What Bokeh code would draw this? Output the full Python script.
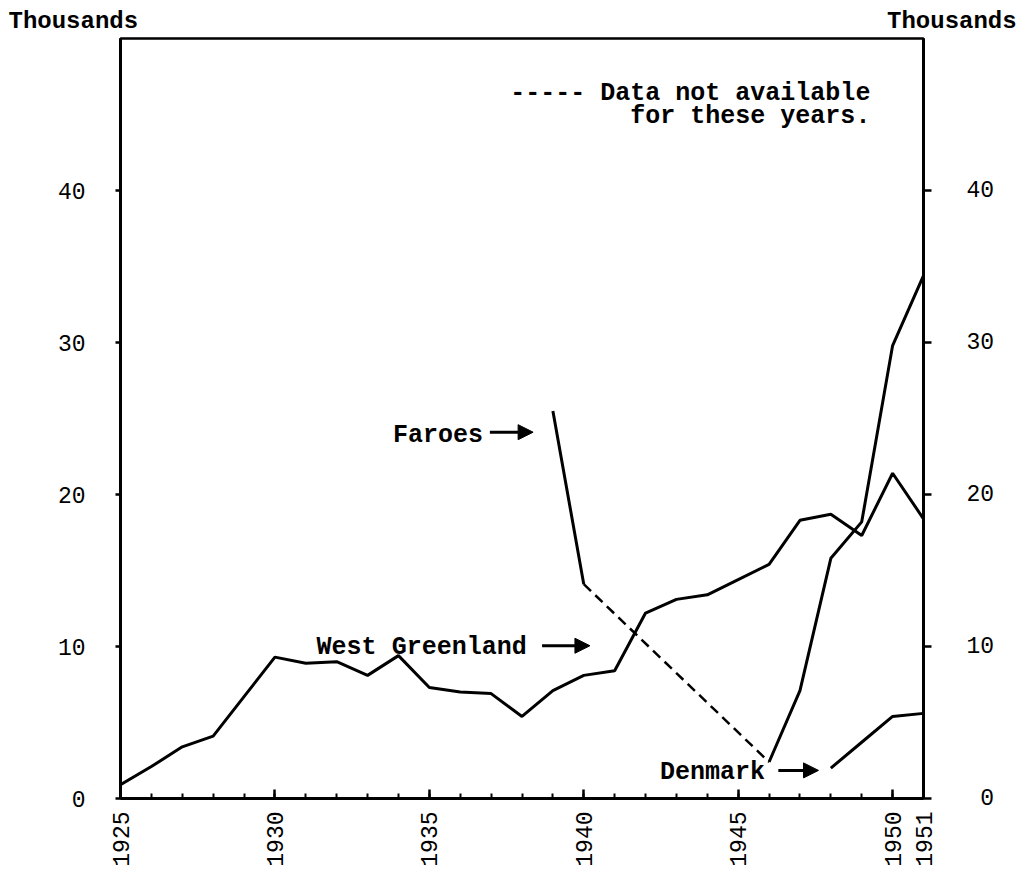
import math
from bokeh.plotting import figure
from bokeh.models import (Range1d, LinearAxis, FixedTicker, Label, Arrow, NormalHead)
from bokeh.embed import file_html
from bokeh.resources import INLINE

# ---------------- data (thousands) ----------------
years = list(range(1925, 1952))
west_greenland = [0.9, 2.1, 3.4, 4.1, 6.7, 9.3, 8.9, 9.0, 8.1, 9.4, 7.3, 7.0, 6.9,
                  5.4, 7.1, 8.1, 8.4, 12.2, 13.1, 13.4, 14.4, 15.4, 18.3, 18.7,
                  17.3, 21.4, 18.4]
faroes_years = [1939, 1940, 1941, 1942, 1943, 1944, 1945, 1946, 1947, 1948, 1949, 1950, 1951]
faroes = [25.5, 14.1, None, None, None, None, None, 2.4, 7.1, 15.8, 18.2, 29.8, 34.4]
denmark_years = [1948, 1949, 1950, 1951]
denmark = [2.0, 3.7, 5.4, 5.6]

x_tick_labels = [1925, 1930, 1935, 1940, 1945, 1950, 1951]
y_tick_labels = [0, 10, 20, 30, 40]
unit_label = "Thousands"

FONT = "Liberation Mono"

p = figure(width=1024, height=873, output_backend="svg", toolbar_location=None,
           x_range=Range1d(1925, 1951), y_range=Range1d(0, 50),
           x_axis_location=None, y_axis_location=None,
           min_border_left=120, min_border_right=101, min_border_top=38,
           min_border_bottom=75)
p.grid.visible = False
p.outline_line_color = "black"
p.outline_line_width = 2.5
p.background_fill_color = "white"
p.border_fill_color = "white"

# unit labels at both top corners (one title line, monospace padding)
p.title.text = unit_label + "\u00a0" * 52 + unit_label
p.title.align = "left"
p.title.offset = -112
p.title.standoff = 8
p.title.text_font = FONT
p.title.text_font_size = "24px"
p.title.text_font_style = "bold"
p.title.text_color = "black"

# axes
xb = LinearAxis(ticker=FixedTicker(ticks=x_tick_labels, minor_ticks=years))
xb.major_label_orientation = math.pi / 2
yl = LinearAxis(ticker=FixedTicker(ticks=y_tick_labels))
yr = LinearAxis(ticker=FixedTicker(ticks=y_tick_labels))
yr.major_label_overrides = {0: "\u00a00"}
for ax in (xb, yl, yr):
    ax.axis_line_width = 3
    ax.axis_line_color = "black"
    ax.major_label_text_font = FONT
    ax.major_label_text_font_size = "23px"
    ax.major_label_text_color = "black"
    ax.major_tick_line_color = "black"
    ax.major_tick_line_width = 2.5
xb.major_tick_in = 9
xb.major_tick_out = 0
xb.minor_tick_in = 5
xb.minor_tick_out = 0
xb.minor_tick_line_color = "black"
xb.minor_tick_line_width = 2
xb.major_label_standoff = 13
yl.major_tick_in = 0
yl.major_tick_out = 5
yl.minor_tick_line_color = None
yl.major_label_standoff = 30
yr.major_tick_in = 0
yr.major_tick_out = 8
yr.minor_tick_line_color = None
yr.major_label_standoff = 35
p.add_layout(xb, "below")
p.add_layout(yl, "left")
p.add_layout(yr, "right")

# lines
nan = float("nan")
p.line(years, west_greenland, line_color="black", line_width=3)
fy = [v if v is not None else nan for v in faroes]
p.line(faroes_years, fy, line_color="black", line_width=3)
# dashed bridge across the missing years
valid = [i for i, v in enumerate(faroes) if v is not None]
for a, b in zip(valid[:-1], valid[1:]):
    if b - a > 1:
        p.line([faroes_years[a], faroes_years[b]], [faroes[a], faroes[b]],
               line_color="black", line_width=2.5, line_dash="10 6")
p.line(denmark_years, denmark, line_color="black", line_width=3)

# annotations
def lab(x, y, text, align="left", size="25px"):
    p.add_layout(Label(x=x, y=y, text=text, text_font=FONT, text_font_size=size,
                       text_font_style="bold", text_color="black", text_align=align,
                       text_baseline="middle"))

def arr(x0, x1, y):
    p.add_layout(Arrow(end=NormalHead(size=15, fill_color="black", line_color="black"),
                       x_start=x0, y_start=y, x_end=x1, y_end=y,
                       line_color="black", line_width=3))

lab(1949.28, 46.4, "----- Data not available", align="right")
lab(1949.28, 44.9, "for these years.", align="right")
lab(1933.82, 23.9, "Faroes")
arr(1936.96, 1938.36, 24.1)
lab(1931.35, 9.95, "West Greenland")
arr(1938.65, 1940.2, 10.05)
lab(1942.47, 1.7, "Denmark")
arr(1946.3, 1947.6, 1.85)

open("out.html", "w").write(file_html(p, INLINE))
